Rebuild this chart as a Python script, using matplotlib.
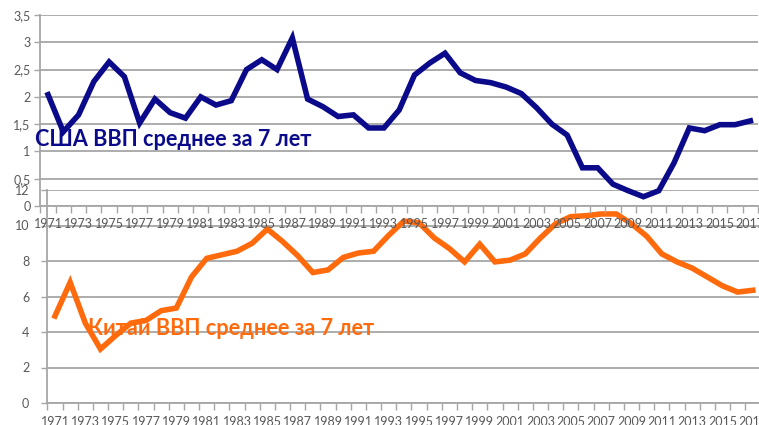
import matplotlib.pyplot as plt
import numpy as np

plt.rcParams['font.family'] = ['Lato', 'DejaVu Sans']

years = np.arange(1971, 2018)
usa_gdp = [2.04, 1.36, 1.67, 2.28, 2.64, 2.37, 1.52, 1.96, 1.71, 1.61,
           2.00, 1.85, 1.93, 2.50, 2.68, 2.50, 3.08, 1.96, 1.82, 1.64,
           1.67, 1.43, 1.43, 1.76, 2.40, 2.62, 2.80, 2.44, 2.30, 2.26,
           2.18, 2.06, 1.80, 1.50, 1.30, 0.70, 0.70, 0.40, 0.28, 0.17,
           0.28, 0.79, 1.43, 1.38, 1.49, 1.49, 1.56]
china_gdp = [4.9, 6.8, 4.5, 3.04, 3.8, 4.5, 4.65, 5.2, 5.35, 7.1,
             8.15, 8.35, 8.55, 9.0, 9.8, 9.1, 8.3, 7.35, 7.5, 8.2,
             8.45, 8.55, 9.45, 10.25, 10.15, 9.3, 8.7, 7.95, 8.95, 7.95,
             8.05, 8.4, 9.3, 10.1, 10.5, 10.55, 10.65, 10.65, 10.1, 9.4,
             8.4, 7.95, 7.6, 7.1, 6.6, 6.25, 6.35]
usa_ticks = [0, 0.5, 1, 1.5, 2, 2.5, 3, 3.5]
china_ticks = [0, 2, 4, 6, 8, 10, 12]
usa_label = 'США ВВП среднее за 7 лет'
china_label = 'Китай ВВП среднее за 7 лет'

W, H = 759, 425
fig = plt.figure(figsize=(W / 100, H / 100), dpi=100)

grid_c = '#A6A6A6'
tick_c = '#595959'


def setup(ax, yticks, ylabels):
    ax.set_facecolor('none')
    ax.set_xlim(1970.5, 2017.5)
    ax.set_ylim(yticks[0], yticks[-1])
    ax.set_yticks(yticks)
    ax.set_yticklabels(ylabels)
    ax.set_xticks(years[::2])
    ax.set_xticklabels([str(y) for y in years[::2]])
    ax.set_xticks(np.arange(1970.5, 2018, 1), minor=True)
    ax.tick_params(axis='x', which='major', length=0, pad=9,
                   labelsize=9, labelcolor=tick_c)
    ax.tick_params(axis='x', which='minor', length=5, color=grid_c, width=1)
    ax.tick_params(axis='y', length=4, color=grid_c, width=1,
                   labelsize=9, labelcolor=tick_c, pad=3)
    ax.grid(axis='y', color=grid_c, lw=1.3)
    for s in ['top', 'right']:
        ax.spines[s].set_visible(False)
    for s in ['left', 'bottom']:
        ax.spines[s].set_color(grid_c)
        ax.spines[s].set_linewidth(1.3)
    ax.set_axisbelow(True)


# bottom chart (China)
ax2 = fig.add_axes([47.4 / W, 1 - 403 / H, 713 / W, 213 / H])
setup(ax2, china_ticks, [str(t) for t in china_ticks])
ax2.tick_params(axis='y', pad=9)
ax2.plot(years, china_gdp, color='#FF6A0D', lw=4, solid_joinstyle='miter')

# top chart (USA)
ax1 = fig.add_axes([40.4 / W, 1 - 206 / H, 717.6 / W, 191 / H])
setup(ax1, usa_ticks, [('%g' % t).replace('.', ',') for t in usa_ticks])
ax1.plot(years, usa_gdp, color='#0A0A8A', lw=4, solid_joinstyle='miter')

fig.text(35 / W, 1 - 146 / H, usa_label, color='#0A0A8A', fontsize=15.6,
         fontweight='bold', va='baseline', ha='left')
fig.text(88 / W, 1 - 335 / H, china_label, color='#FF6A0D', fontsize=15.6,
         fontweight='bold', va='baseline', ha='left')

fig.savefig('out.png', dpi=100)
